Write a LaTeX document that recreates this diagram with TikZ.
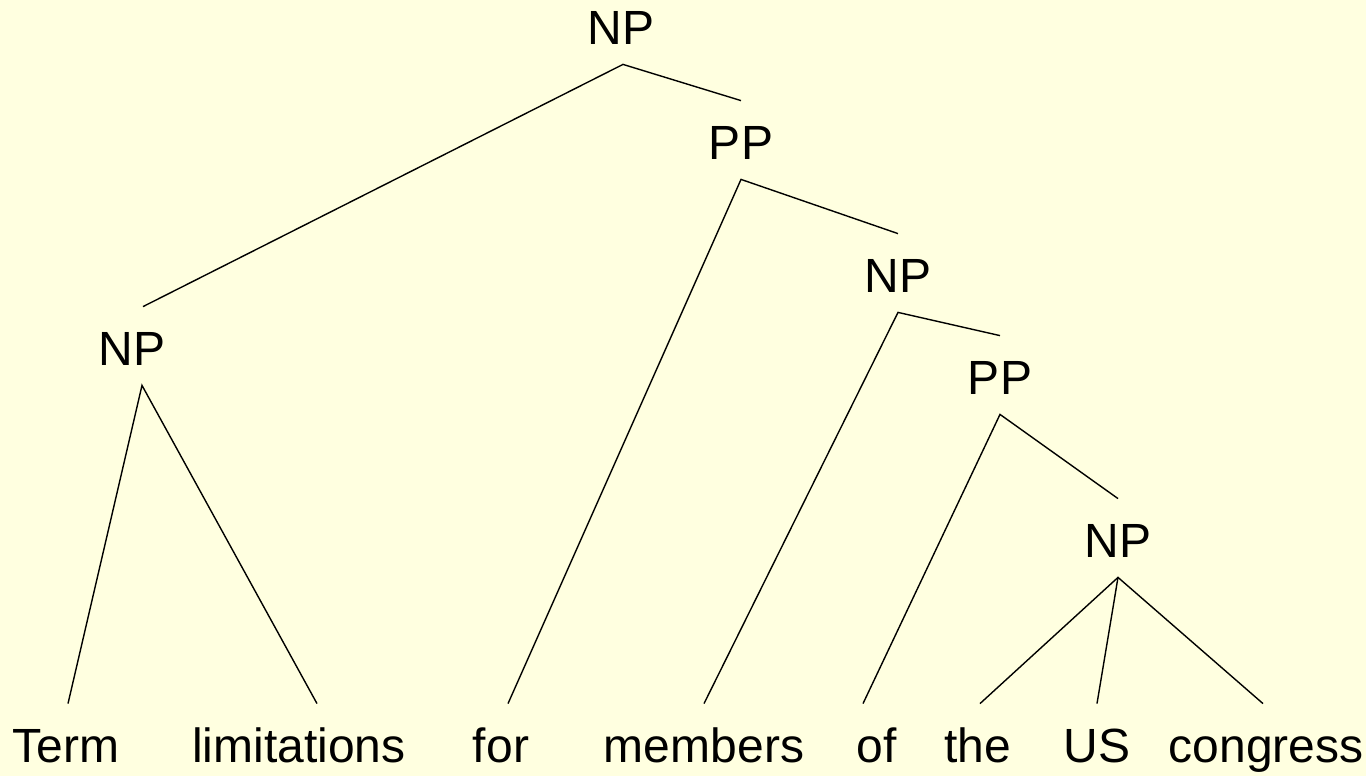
\documentclass[tikz,border=0pt]{standalone}
\usepackage{fontspec}
\setmainfont{Liberation Sans}
\definecolor{paper}{HTML}{FFFFE0}

\tikzset{
  cat/.style={anchor=base, inner xsep=0pt, inner ysep=10pt,
    text height=19pt, text depth=0pt, font=\fontsize{24}{28}\selectfont},
  branch/.style={line width=0.7pt}
}

\begin{document}
\begin{tikzpicture}[x=0.5pt,y=-0.5pt]
\useasboundingbox (0,0) rectangle (1366,776);
\fill[paper] (0,0) rectangle (1366,776);
% phrase nodes
\node[cat] (np0) at (621,44) {NP};
\node[cat] (np1) at (132,365) {NP};
\node[cat] (pp1) at (741,159) {PP};
\node[cat] (np2) at (898,292) {NP};
\node[cat] (pp2) at (1000,394) {PP};
\node[cat] (np3) at (1118,557) {NP};
% the words
\node[cat] (w1) at (66,762) {Term};
\node[cat] (w2) at (299,762) {limitations};
\node[cat] (w3) at (501,762) {for};
\node[cat] (w4) at (704,762) {members};
\node[cat] (w5) at (877,762) {of};
\node[cat] (w6) at (978,762) {the};
\node[cat] (w7) at (1097,762) {US};
\node[cat] (w8) at (1266,762) {congress};
% branches
\draw[branch] ([xshift=5.5pt]np1.north) -- ([xshift=1pt]np0.south) -- (pp1.north);
\draw[branch] ([xshift=1pt]w1.north) -- ([xshift=5pt]np1.south) -- ([xshift=9pt]w2.north);
\draw[branch] ([xshift=3.5pt]w3.north) -- (pp1.south) -- (np2.north);
\draw[branch] (w4.north) -- (np2.south) -- (pp2.north);
\draw[branch] ([xshift=-7pt]w5.north) -- (pp2.south) -- (np3.north);
\draw[branch] ([xshift=1pt]w6.north) -- (np3.south) -- ([xshift=-1.5pt]w8.north);
\draw[branch] (np3.south) -- (w7.north);
\end{tikzpicture}
\end{document}
